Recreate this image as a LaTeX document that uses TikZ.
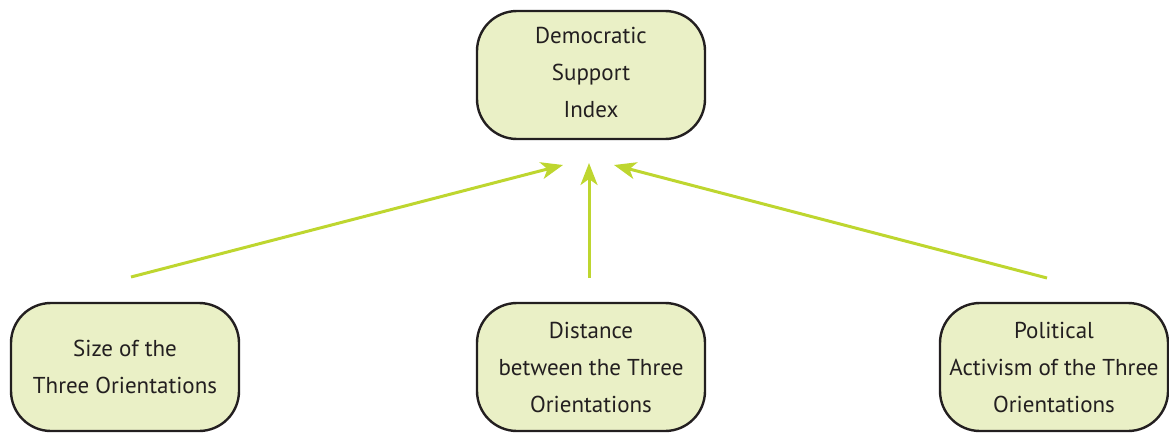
\documentclass[tikz,border=0pt]{standalone}
\usepackage{fontspec}
\setmainfont{PT Sans}
\usetikzlibrary{arrows.meta}
\definecolor{boxfill}{HTML}{EAF0C6}
\definecolor{boxline}{HTML}{231F20}
\definecolor{arrowc}{HTML}{BED62F}
\begin{document}
\begin{tikzpicture}[x=1pt,y=-1pt,
  box/.style={draw=boxline,fill=boxfill,line width=2.4pt,rounded corners=40pt,
    minimum width=228pt,minimum height=128pt,inner sep=0pt,align=center,
    font=\fontsize{23}{37}\selectfont,text=boxline},
  conn/.style={draw=arrowc,line width=3pt,-{Stealth[length=22pt,width=17pt,inset=6pt]}}]
\useasboundingbox (0,0) rectangle (1169,436);
\node[box,text depth=6pt] (top) at (591,75) {Democratic\\Support\\Index};
\node[box] (left) at (125,367) {Size of the\\Three Orientations};
\node[box] (mid) at (591,367) {Distance\\between the Three\\Orientations};
\node[box] (right) at (1054,367) {Political\\Activism of the Three\\Orientations};
\coordinate (ls) at (131,277);
\coordinate (le) at (563,165);
\coordinate (ms) at (589,278);
\coordinate (me) at (589,163);
\coordinate (rs) at (1047,278);
\coordinate (re) at (614,165);
\draw[conn] (ls) -- (le);
\draw[conn] (ms) -- (me);
\draw[conn] (rs) -- (re);
\end{tikzpicture}
\end{document}
